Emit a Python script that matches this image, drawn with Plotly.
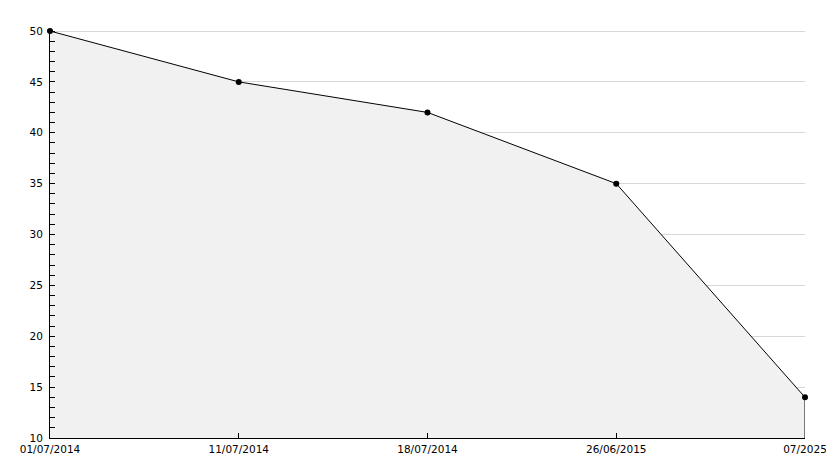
import plotly.graph_objects as go

categories = ["01/07/2014", "11/07/2014", "18/07/2014", "26/06/2015", "07/2025"]
values = [50, 45, 42, 35, 14]
y_min, y_max = 10, 50
y_major = 5
y_minor = 1

font_family = "DejaVu Sans"

fig = go.Figure()

fig.add_trace(go.Scatter(
    x=categories, y=values,
    mode="lines+markers",
    fill="tozeroy",
    fillcolor="#f1f1f1",
    line=dict(color="#000000", width=1),
    marker=dict(color="#000000", size=6, symbol="circle"),
    cliponaxis=False,
    showlegend=False,
    hoverinfo="x+y",
))

# closing edge of the filled area at the last category
fig.add_trace(go.Scatter(
    x=[categories[-1], categories[-1]], y=[values[-1], y_min],
    mode="lines",
    line=dict(color="#000000", width=1),
    showlegend=False,
    hoverinfo="skip",
))

# the page body adds an 8px offset, so the figure is sized to fit inside it
fig.update_layout(
    width=826, height=460,
    margin=dict(l=42, r=29, t=22, b=30),
    paper_bgcolor="#ffffff",
    plot_bgcolor="#ffffff",
    font=dict(family=font_family, size=10.5, color="#000000"),
    xaxis=dict(
        type="category",
        range=[0, len(categories) - 1],
        showgrid=False,
        showline=True, linecolor="#000000", linewidth=1,
        ticks="inside", ticklen=5, tickcolor="#000000", tickwidth=1,
        ticklabelstandoff=1,
        zeroline=False,
        automargin=False,
        fixedrange=True,
    ),
    yaxis=dict(
        range=[y_min, y_max + 0.1],
        dtick=y_major, tick0=0,
        showgrid=True, gridcolor="#d8d8d8", gridwidth=1,
        showline=True, linecolor="#000000", linewidth=1,
        ticks="inside", ticklen=5, tickcolor="#000000", tickwidth=1,
        minor=dict(dtick=y_minor, ticks="inside", ticklen=5, tickcolor="#000000", showgrid=False),
        ticklabelstandoff=4,
        zeroline=False,
        automargin=False,
        fixedrange=True,
    ),
)

fig.write_html("out.html")
